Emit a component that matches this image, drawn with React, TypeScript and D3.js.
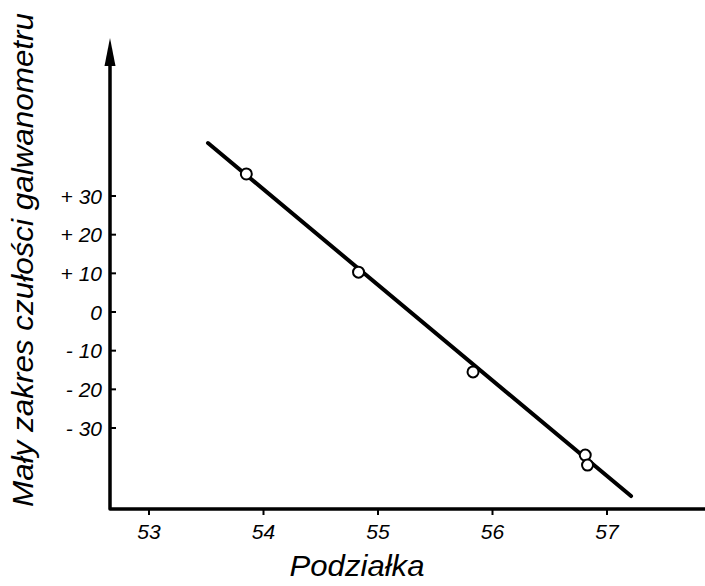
import React from 'react';
import * as d3 from 'd3';

// readings (podzialka vs galvanometer deflection)
const pointX = [53.85, 54.83, 55.83, 56.81, 56.83];
const pointY = [35.7, 10.3, -15.5, -37.0, -39.6];

// fitted straight line, two end points
const lineX = [53.515, 57.21];
const lineY = [43.7, -47.6];

const xTicks = [53, 54, 55, 56, 57];
const yTicks = [30, 20, 10, 0, -10, -20, -30];
const yTickLabels = ['+ 30', '+ 20', '+ 10', '0', '- 10', '- 20', '- 30'];

const width = 705;
const height = 586;

const App = () => {
  const x = d3.scaleLinear().domain([53, 57]).range([149, 607]);
  const y = d3.scaleLinear().domain([-30, 30]).range([428, 196]);

  const axisX = 110; // y axis position
  const axisY = 509; // x axis position
  const arrowTip = 38;

  const fitLine = d3.line<number>()
    .x((d, i) => x(lineX[i]))
    .y((d, i) => y(lineY[i]));

  const font = '"Liberation Sans", Arial, sans-serif';

  return (
    <svg width={width} height={height}
      style={{ position: 'absolute', left: 0, top: 0, background: '#fff' }}>
      {/* axes */}
      <path d={`M${axisX},${arrowTip + 20}V${axisY}H${width}`}
        fill="none" stroke="#000" strokeWidth={3.5} strokeLinejoin="round" />
      <path d={`M${axisX},${arrowTip}L${axisX - 5.5},${arrowTip + 28}L${axisX + 5.5},${arrowTip + 28}Z`}
        fill="#000" />

      {/* x ticks */}
      {xTicks.map(t => (
        <g key={t}>
          <line x1={x(t)} x2={x(t)} y1={axisY} y2={axisY + 6} stroke="#000" strokeWidth={2} />
          <text x={x(t)} y={axisY + 30} textAnchor="middle" fontFamily={font}
            fontStyle="italic" fontSize={21}>{t}</text>
        </g>
      ))}

      {/* y ticks */}
      {yTicks.map((t, i) => (
        <g key={t}>
          <line x1={axisX} x2={axisX + 6} y1={y(t)} y2={y(t)} stroke="#000" strokeWidth={2} />
          <text x={axisX - 8} y={y(t)} dy="0.36em" textAnchor="end" fontFamily={font}
            fontStyle="italic" fontSize={21}>{yTickLabels[i]}</text>
        </g>
      ))}

      {/* fitted line */}
      <path d={fitLine(lineX) || ''} fill="none" stroke="#000" strokeWidth={4} strokeLinecap="round" />

      {/* measured points */}
      {pointX.map((px, i) => (
        <circle key={i} cx={x(px)} cy={y(pointY[i])} r={5.5}
          fill="#fff" stroke="#000" strokeWidth={2} />
      ))}

      {/* axis titles */}
      <text x={357} y={576} textAnchor="middle" fontFamily={font} fontStyle="italic"
        fontSize={29} textLength={135} lengthAdjust="spacingAndGlyphs">Podziałka</text>
      <text transform="translate(33,260) rotate(-90)" textAnchor="middle" fontFamily={font}
        fontStyle="italic" fontSize={30} textLength={494} lengthAdjust="spacingAndGlyphs">
        Mały zakres czułości galwanometru
      </text>
    </svg>
  );
};

export default App;
